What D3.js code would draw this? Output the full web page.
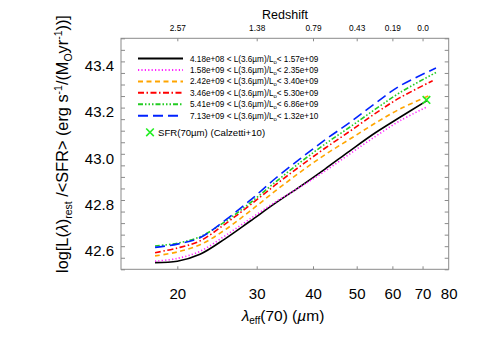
<!DOCTYPE html>
<html><head><meta charset="utf-8">
<script src="https://cdn.jsdelivr.net/npm/d3@7"></script>
<style>
body{margin:0;background:#fff;}
svg{display:block;font-family:"Liberation Sans",Arial,Helvetica,sans-serif;}
</style></head>
<body><svg id="c" width="485" height="346"></svg>
<script>
// ---- data ----
const lambdaCommon = [17.85, 20.0, 22.46, 25.52, 28.99, 32.94, 37.43, 42.52, 48.31, 54.90, 62.37];
const lambdaEnd = [71.46, 71.8, 72.1, 73.7, 74.96, 74.96];
const valBlack  = [42.529, 42.535, 42.565, 42.632, 42.708, 42.785, 42.858, 42.934, 43.013, 43.090, 43.158, 43.229];
const valPink   = [42.535, 42.547, 42.578, 42.645, 42.718, 42.790, 42.856, 42.925, 43.000, 43.074, 43.143, 43.204];
const valOrange = [42.558, 42.575, 42.606, 42.671, 42.752, 42.838, 42.920, 42.996, 43.064, 43.132, 43.194, 43.250];
const valRed    = [42.572, 42.592, 42.623, 42.696, 42.778, 42.864, 42.946, 43.024, 43.098, 43.174, 43.243, 43.316];
const valGreen  = [42.601, 42.613, 42.641, 42.706, 42.787, 42.876, 42.962, 43.042, 43.116, 43.192, 43.265, 43.352];
const valBlue   = [42.595, 42.609, 42.637, 42.712, 42.798, 42.892, 42.978, 43.060, 43.136, 43.218, 43.294, 43.371];
const binLow  = ["4.18e+08", "1.58e+09", "2.42e+09", "3.46e+09", "5.41e+09", "7.13e+09"];
const binHigh = ["1.57e+09", "2.35e+09", "3.40e+09", "5.30e+09", "6.86e+09", "1.32e+10"];
const calzettiPoint = {lambda: 71.4, value: 43.233};
const xTicks = [20, 30, 40, 50, 60, 70, 80];
const yTicksMajor = [42.6, 42.8, 43.0, 43.2, 43.4];
const redshiftTickPos = [20, 30, 40, 50, 60, 70];
const redshiftLabels = ["2.57", "1.38", "0.79", "0.43", "0.19", "0.0"];

// ---- styles ----
const colors = ["#000000", "#ff22ff", "#ffa500", "#ff0000", "#22cc22", "#0022ff"];
const dashes = ["none", "1.2,2.2", "5,3.5", "6,2.5,1.5,2.5", "5,2,1.5,2,1.5,2,1.5,2", "10,5"];
const allVals = [valBlack, valPink, valOrange, valRed, valGreen, valBlue];

const svg = d3.select("#c");
const L = 121, R = 448.7, T = 38.3, B = 269.3;
const x = d3.scaleLog().domain([15, 80]).range([L, R]);
const y = d3.scaleLinear().domain([42.5, 43.5]).range([B, T]);
const axisCol = "#8a8a8a";

// curves
const line = d3.line().x(d => x(d[0])).y(d => y(d[1])).curve(d3.curveCatmullRom.alpha(0.5));
allVals.forEach((vals, i) => {
  const lams = lambdaCommon.concat([lambdaEnd[i]]);
  const pts = vals.map((v, j) => [lams[j], v]);
  svg.append("path").attr("d", line(pts)).attr("fill", "none")
    .attr("stroke", colors[i]).attr("stroke-width", 1.6)
    .attr("stroke-dasharray", dashes[i]);
});

// Calzetti marker
function xMark(g, cx, cy, s) {
  g.append("path").attr("d", `M${cx-s},${cy-s}L${cx+s},${cy+s}M${cx-s},${cy+s}L${cx+s},${cy-s}`)
    .attr("stroke", "#22ee22").attr("stroke-width", 1.6).attr("fill", "none");
}
xMark(svg, x(calzettiPoint.lambda), y(calzettiPoint.value), 3.8);

// axes
const gB = svg.append("g").attr("transform", `translate(0,${B})`)
  .call(d3.axisBottom(x).tickValues(xTicks).tickFormat(d3.format("d")).tickSize(-3).tickPadding(19));
const gT = svg.append("g").attr("transform", `translate(0,${T})`)
  .call(d3.axisTop(x).tickValues(redshiftTickPos).tickFormat((d, i) => redshiftLabels[i]).tickSize(-3).tickPadding(7));
const yMinor = d3.range(42.5, 43.5001, 0.05);
const gL = svg.append("g").attr("transform", `translate(${L},0)`)
  .call(d3.axisLeft(y).tickValues(yMinor).tickFormat(d => yTicksMajor.some(t => Math.abs(t - d) < 1e-6) ? d3.format(".1f")(d) : "").tickSize(-4).tickPadding(7));
const gR = svg.append("g").attr("transform", `translate(${R},0)`)
  .call(d3.axisRight(y).tickValues(yMinor).tickFormat("").tickSize(-4));
[gB, gT, gL, gR].forEach(g => {
  g.select(".domain").remove();
  g.selectAll(".tick line").attr("stroke", axisCol);
  g.selectAll("text").attr("fill", "#000").attr("font-family", "Liberation Sans, Arial, sans-serif");
});
gB.selectAll(".tick text").attr("font-size", 15);
gB.selectAll(".tick").filter(d => d === 80).select("line").remove();
gT.selectAll(".tick text").attr("font-size", 8.3);
gL.selectAll(".tick text").attr("font-size", 15).attr("dy", "0.62em");
svg.append("rect").attr("x", L).attr("y", T).attr("width", R - L).attr("height", B - T)
  .attr("fill", "none").attr("stroke", axisCol).attr("stroke-width", 1);

// titles
svg.append("text").attr("x", 285).attr("y", 18.5).attr("text-anchor", "middle")
  .attr("font-size", 12.5).text("Redshift");
const xt = svg.append("text").attr("x", 283).attr("y", 321).attr("text-anchor", "middle").attr("font-size", 15.5);
xt.append("tspan").attr("font-style", "italic").text("λ");
xt.append("tspan").attr("font-size", 10).attr("dy", 3).text("eff");
xt.append("tspan").attr("dy", -3).text("(70) (");
xt.append("tspan").attr("font-style", "italic").text("µ");
xt.append("tspan").text("m)");

const yt = svg.append("text").attr("transform", "translate(68,144) rotate(-90)")
  .attr("text-anchor", "middle").attr("font-size", 16.3);
yt.append("tspan").text("log[L(");
yt.append("tspan").attr("font-style", "italic").text("λ");
yt.append("tspan").text(")");
yt.append("tspan").attr("font-size", 10.5).attr("dy", 3.5).text("rest");
yt.append("tspan").attr("dy", -3.5).text(" /<SFR> (erg s");
yt.append("tspan").attr("font-size", 10.5).attr("dy", -6).text("-1");
yt.append("tspan").attr("dy", 6).text("/(M");
yt.append("tspan").attr("font-size", 10.5).attr("dy", 3.5).text("O");
yt.append("tspan").attr("dy", -3.5).text("yr");
yt.append("tspan").attr("font-size", 10.5).attr("dy", -6).text("-1");
yt.append("tspan").attr("dy", 6).text("))]");

// legend
const lg = svg.append("g");
binLow.forEach((lo, i) => {
  const yy = 58.5 + i * 11.45;
  lg.append("line").attr("x1", 138).attr("x2", 183).attr("y1", yy).attr("y2", yy)
    .attr("stroke", colors[i]).attr("stroke-width", 2).attr("stroke-dasharray", dashes[i]);
  const t = lg.append("text").attr("x", 190).attr("y", yy + 3).attr("font-size", 8.2);
  t.append("tspan").text(`${lo} < L(3.6µm)/L`);
  t.append("tspan").attr("font-size", 6).attr("dy", 2).text("o");
  t.append("tspan").attr("dy", -2).text(`< ${binHigh[i]}`);
});
xMark(lg, 150, 132.3, 3.8);
lg.append("text").attr("x", 158).attr("y", 135.8).attr("font-size", 9.6).text("SFR(70µm) (Calzetti+10)");
</script></body></html>
